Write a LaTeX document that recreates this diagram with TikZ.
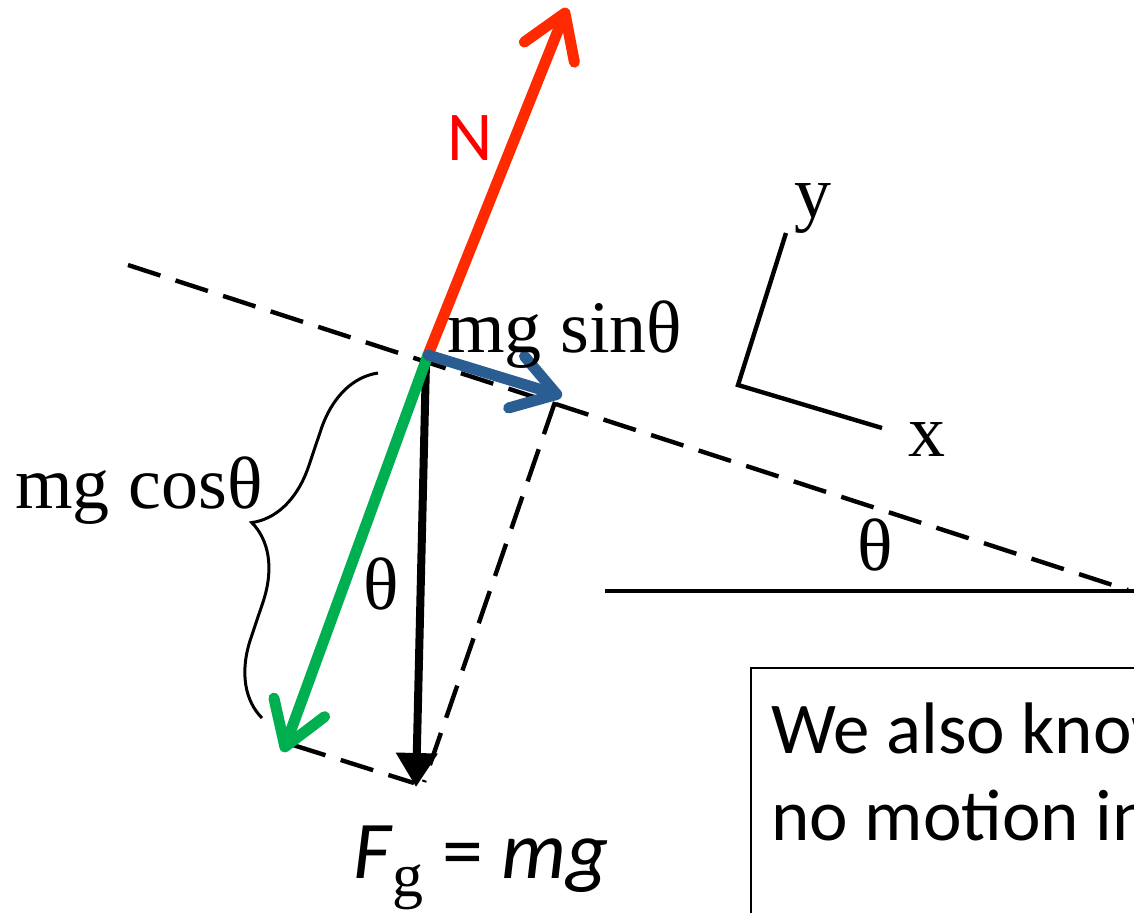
\documentclass[tikz,border=0pt]{standalone}
\usepackage{fontspec}
\setmainfont{Carlito}
\newfontfamily\timesfont{Liberation Serif}
\usetikzlibrary{arrows.meta, decorations.pathreplacing}
\definecolor{normalRed}{HTML}{FF2A00}
\definecolor{labelRed}{HTML}{FF0000}
\definecolor{slopeBlue}{HTML}{2A5E92}
\definecolor{perpGreen}{HTML}{00B050}
\tikzset{
  force/.style={line width=5.5pt, line cap=round,
    -{Straight Barb[length=21pt, width=27pt, round]}},
  weight/.style={line width=4pt, -{Triangle[length=17pt, width=20pt]}},
  guide/.style={line width=2.2pt, dash pattern=on 17pt off 8pt},
  axisline/.style={line width=2.2pt},
  serif/.style={font=\timesfont\fontsize{37}{40}\selectfont, inner sep=0pt},
  sans/.style={font=\fontsize{35}{42}\selectfont, inner sep=0pt},
}

\begin{document}
\begin{tikzpicture}[x=0.5pt, y=-0.5pt]
  \useasboundingbox (0,0) rectangle (1134,912);
  \begin{scope}
  \clip (0,0) rectangle (1134,912);
  % incline and ground
  \coordinate (inc-a) at (128,265);
  \coordinate (inc-b) at (1128,590);
  \coordinate (gnd-a) at (605,591);
  \coordinate (gnd-b) at (1140,591);
  \draw[guide] (inc-a) -- (inc-b);
  \draw[axisline] (gnd-a) -- (gnd-b);
  \node[serif] (th-inc) at (875,545) {θ};
  % tilted axes
  \coordinate (ax-o) at (738,385);
  \coordinate (ax-y) at (786,233);
  \coordinate (ax-x) at (882,428);
  \draw[axisline] (ax-y) -- (ax-o) -- (ax-x);
  \node[serif] (ylab) at (813,208) {y};
  \node[serif] (xlab) at (927,440) {x};
  % force components
  \coordinate (O) at (428,355);
  \coordinate (O-w) at (426,362);
  \coordinate (N-tip) at (567,8);
  \coordinate (S-tip) at (562,396);
  \coordinate (C-tip) at (283,752);
  \coordinate (W-tip) at (416,787);
  \coordinate (dc-a) at (293,745);
  \coordinate (dc-b) at (414,783);
  \coordinate (ds-a) at (555,402);
  \coordinate (ds-b) at (424,782);
  \draw[guide] (dc-a) -- (dc-b);
  \draw[guide] (ds-a) -- (ds-b);
  \draw[weight] (O-w) -- (W-tip);
  \draw[force, normalRed] (O) -- (N-tip);
  \draw[force, perpGreen] (O) -- (C-tip);
  \draw[force, slopeBlue] (O) -- (S-tip);
  \node[sans, text=labelRed] (Nlab) at (470,138) {N};
  \node[serif, anchor=base west] (sinlab) at (447,352) {mg sinθ};
  \node[serif] (th-w) at (381,584) {θ};
  % brace for the normal part
  \coordinate (br-lo) at (262,718);
  \coordinate (br-hi) at (378,373);
  \draw[line width=1.5pt, decorate, decoration={brace, amplitude=36pt}]
    (br-lo) -- (br-hi);
  \node[serif, anchor=base west] (coslab) at (15,508) {mg cosθ};
  \node[sans, font=\fontsize{41}{44}\selectfont, anchor=base west] (Fg) at (353,878)
    {\textit{F}\raisebox{-9pt}{\timesfont\fontsize{31}{31}\selectfont g} = \textit{mg}};
  % note box
  \draw[line width=1pt] (751,668) rectangle (1200,960);
  \node[sans, font=\fontsize{36.5}{44}\selectfont, anchor=base west] (note1) at (771,753)
    {We also know};
  \node[sans, font=\fontsize{36.5}{44}\selectfont, anchor=base west] (note2) at (771,840)
    {no motion in};
  \end{scope}
\end{tikzpicture}
\end{document}
